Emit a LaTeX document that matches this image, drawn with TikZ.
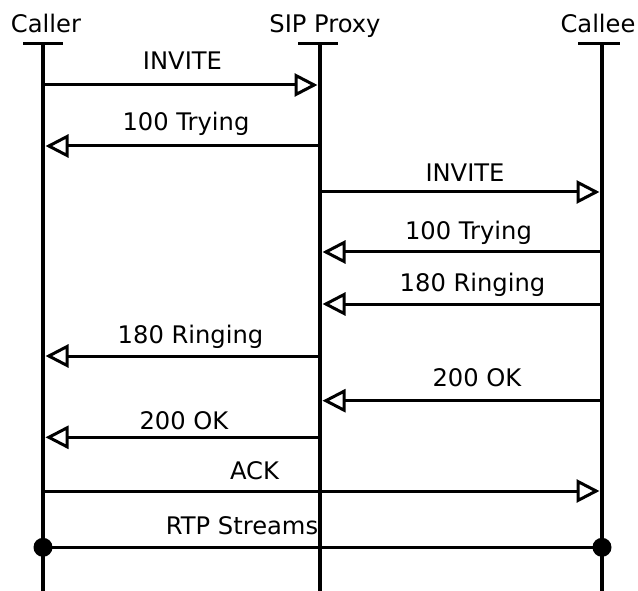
\documentclass[tikz,border=0pt]{standalone}
\usepackage{fontspec}
\setmainfont{DejaVu Sans}
\usetikzlibrary{arrows.meta}
\tikzset{
  lifeline/.style={line width=3.8pt},
  topbar/.style={line width=3.2pt},
  msg/.style={line width=3pt, -{Triangle[open, length=23pt, width=23pt]}, shorten >=2.5pt},
  lbl/.style={anchor=base, inner sep=0pt, font=\fontsize{24.2}{28}\selectfont},
  hdr/.style={anchor=base, inner sep=0pt, font=\fontsize{24.2}{28}\selectfont},
  rtp/.style={line width=3.4pt},
  dot/.style={fill=black}
}
\begin{document}
\begin{tikzpicture}[x=1pt,y=-1pt]
\useasboundingbox (0,0) rectangle (638,591);
% headers
\node[hdr] (hcaller) at (46,32.7) {Caller};
\node[hdr] (hproxy) at (325,32.7) {SIP Proxy};
\node[hdr] (hcallee) at (598,32.7) {Callee};
% lifelines
\coordinate (ct) at (43,43.3);  \coordinate (cb) at (43,591);
\coordinate (pt) at (320,43.3); \coordinate (pb) at (320,591);
\coordinate (et) at (602,43.3); \coordinate (eb) at (602,591);
\draw[lifeline] (ct) -- (cb);
\draw[lifeline] (pt) -- (pb);
\draw[lifeline] (et) -- (eb);
\coordinate (cbl) at (23,43.3);  \coordinate (cbr) at (63,43.3);
\coordinate (pbl) at (298,43.3); \coordinate (pbr) at (338,43.3);
\coordinate (ebl) at (578,43.3); \coordinate (ebr) at (620,43.3);
\draw[topbar] (cbl) -- (cbr);
\draw[topbar] (pbl) -- (pbr);
\draw[topbar] (ebl) -- (ebr);
% message endpoints
\coordinate (c1) at (43,85);    \coordinate (p1) at (320,85);
\coordinate (c2) at (43,146);   \coordinate (p2) at (320,146);
\coordinate (p3) at (320,192);  \coordinate (e3) at (602,192);
\coordinate (p4) at (320,252);  \coordinate (e4) at (602,252);
\coordinate (p5) at (320,304);  \coordinate (e5) at (602,304);
\coordinate (c6) at (43,356);   \coordinate (p6) at (320,356);
\coordinate (p7) at (320,400.7);\coordinate (e7) at (602,400.7);
\coordinate (c8) at (43,437.3); \coordinate (p8) at (320,437.3);
\coordinate (c9) at (43,491);   \coordinate (e9) at (602,491);
\coordinate (c10) at (43,547.3);\coordinate (e10) at (602,547.3);
% messages
\draw[msg] (c1) -- (p1);
\node[lbl] (l1) at (182.5,70) {INVITE};
\draw[msg] (p2) -- (c2);
\node[lbl] (l2) at (186,131) {100 Trying};
\draw[msg] (p3) -- (e3);
\node[lbl] (l3) at (465,181.7) {INVITE};
\draw[msg] (e4) -- (p4);
\node[lbl] (l4) at (468.5,240) {100 Trying};
\draw[msg] (e5) -- (p5);
\node[lbl] (l5) at (472.5,291.5) {180 Ringing};
\draw[msg] (p6) -- (c6);
\node[lbl] (l6) at (190.5,343) {180 Ringing};
\draw[msg] (e7) -- (p7);
\node[lbl] (l7) at (477,386.7) {200 OK};
\draw[msg] (p8) -- (c8);
\node[lbl] (l8) at (184,429) {200 OK};
\draw[msg] (c9) -- (e9);
\node[lbl] (l9) at (254.5,479.3) {ACK};
% RTP
\draw[rtp] (c10) -- (e10);
\fill[dot] (c10) circle (9.5);
\fill[dot] (e10) circle (9.5);
\node[lbl] (l10) at (242,534) {RTP Streams};
\end{tikzpicture}
\end{document}
